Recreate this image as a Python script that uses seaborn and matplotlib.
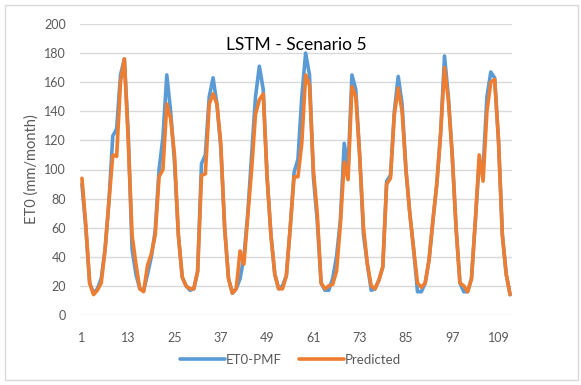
import numpy as np
import pandas as pd
import matplotlib
matplotlib.use("Agg")
import matplotlib.pyplot as plt
import seaborn as sns
from matplotlib.patches import Rectangle
from matplotlib.lines import Line2D

months = list(range(1, 113))
et0_pmf = [90, 60, 22, 15, 18, 25, 45, 78, 123, 128, 165, 176,
           125, 45, 28, 18, 17, 28, 40, 58, 100, 122, 165, 140,
           105, 55, 26, 20, 17, 18, 30, 104, 110, 150, 163, 145,
           115, 60, 25, 15, 18, 25, 40, 70, 110, 150, 171, 155,
           95, 55, 28, 18, 20, 27, 60, 98, 107, 150, 180, 165,
           95, 65, 22, 17, 17, 25, 40, 65, 118, 100, 165, 155,
           110, 55, 35, 17, 18, 24, 33, 92, 96, 140, 164, 145,
           100, 70, 45, 16, 16, 22, 38, 65, 90, 125, 178, 150,
           110, 60, 22, 16, 16, 25, 65, 105, 100, 150, 167, 163,
           120, 55, 28, 14]
predicted = [94, 62, 22, 14, 17, 22, 45, 78, 110, 109, 160, 176,
             120, 55, 35, 18, 16, 34, 42, 55, 95, 100, 145, 135,
             110, 55, 26, 20, 18, 18, 30, 96, 97, 145, 152, 145,
             118, 60, 25, 15, 18, 44, 35, 68, 100, 138, 148, 152,
             95, 55, 28, 18, 18, 27, 60, 95, 95, 118, 165, 158,
             100, 70, 22, 18, 20, 21, 30, 62, 105, 93, 157, 150,
             110, 60, 35, 20, 18, 24, 33, 90, 94, 138, 156, 140,
             100, 70, 45, 22, 19, 22, 38, 65, 90, 125, 170, 148,
             110, 60, 22, 20, 16, 25, 65, 110, 92, 140, 160, 162,
             120, 55, 28, 14]
x_ticks = [1, 13, 25, 37, 49, 61, 73, 85, 97, 109]
y_ticks = [0, 20, 40, 60, 80, 100, 120, 140, 160, 180, 200]

df = pd.DataFrame({
    "Month": months * 2,
    "ET0": et0_pmf + predicted,
    "Series": ["ET0-PMF"] * len(months) + ["Predicted"] * len(months),
})

sns.set_theme(style="white")
plt.rcParams["font.family"] = ["Lato", "DejaVu Sans"]

fig = plt.figure(figsize=(5.81, 3.85), dpi=100)
ax = fig.add_axes([80 / 581, 70 / 385, 432 / 581, 291 / 385])

sns.lineplot(data=df, x="Month", y="ET0", hue="Series",
             palette={"ET0-PMF": "#5B9BD5", "Predicted": "#ED7D31"},
             linewidth=2.6, ax=ax, legend=False)

ax.set_xlim(0.5, 112.5)
ax.set_ylim(0, 200)
ax.set_xticks(x_ticks)
ax.set_yticks(y_ticks)
ax.yaxis.grid(True, color="#D9D9D9", linewidth=1)
ax.xaxis.grid(False)
ax.set_axisbelow(True)
for s in ax.spines.values():
    s.set_visible(False)
ax.tick_params(axis="both", length=0, labelsize=9, colors="#595959")
ax.tick_params(axis="y", pad=10)
ax.tick_params(axis="x", pad=12)
ax.set_xlabel("")
ax.set_ylabel("ET0 (mm/month)", fontsize=10.5, color="#595959", labelpad=4)
ax.text(0.5, 0.955, "LSTM - Scenario 5", transform=ax.transAxes,
        ha="center", va="top", fontsize=12.5, color="#000000")

handles = [Line2D([0], [0], color="#5B9BD5", lw=2.6),
           Line2D([0], [0], color="#ED7D31", lw=2.6)]
fig.legend(handles, ["ET0-PMF", "Predicted"], loc="center",
           bbox_to_anchor=(0.5, 1 - 360 / 385), ncol=2, frameon=False,
           fontsize=9.5, handlelength=3.4, columnspacing=1.3, handletextpad=0.1,
           labelcolor="#595959")

fig.patches.append(Rectangle((5 / 581, 5 / 385), 573 / 581, 375 / 385,
                             transform=fig.transFigure, fill=False,
                             edgecolor="#D9D9D9", linewidth=1))

fig.savefig("out.png", dpi=100)
